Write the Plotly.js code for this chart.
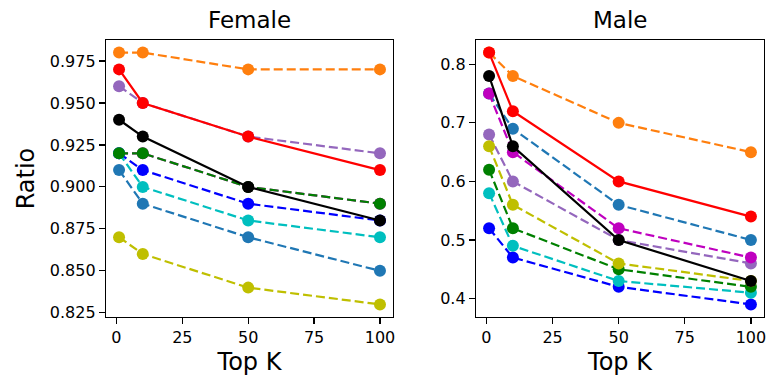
<!DOCTYPE html>
<html>
<head>
<meta charset="utf-8">
<script src="https://cdn.plot.ly/plotly-3.0.1.min.js"></script>
<style>html,body{margin:0;padding:0;background:#fff}#chart{width:767px;height:379px}</style>
</head>
<body>
<div id="chart"></div>
<script>
// Top K values (x axis)
const topK = [1, 10, 50, 100];

// Series names (draw order, bottom to top) and colours
const seriesNames = ["orange", "purple", "steelblue", "magenta", "blue", "cyan", "green", "olive", "red", "black"];
const seriesColors = ["#ff7f0e", "#9467bd", "#1f77b4", "#bf00bf", "#0000ff", "#00bfbf", "#008000", "#bfbf00", "#ff0000", "#000000"];
const seriesDash = ["dash", "dash", "dash", "dash", "dash", "dash", "dash", "dash", "solid", "solid"];

// Female ratios
const femaleOrange    = [0.98, 0.98, 0.97, 0.97];
const femalePurple    = [0.96, 0.95, 0.93, 0.92];
const femaleSteelblue = [0.91, 0.89, 0.87, 0.85];
const femaleMagenta   = [0.92, 0.92, 0.90, 0.89];
const femaleBlue      = [0.92, 0.91, 0.89, 0.88];
const femaleCyan      = [0.92, 0.90, 0.88, 0.87];
const femaleGreen     = [0.92, 0.92, 0.90, 0.89];
const femaleOlive     = [0.87, 0.86, 0.84, 0.83];
const femaleRed       = [0.97, 0.95, 0.93, 0.91];
const femaleBlack     = [0.94, 0.93, 0.90, 0.88];

// Male ratios
const maleOrange    = [0.82, 0.78, 0.70, 0.65];
const malePurple    = [0.68, 0.60, 0.50, 0.46];
const maleSteelblue = [0.75, 0.69, 0.56, 0.50];
const maleMagenta   = [0.75, 0.65, 0.52, 0.47];
const maleBlue      = [0.52, 0.47, 0.42, 0.39];
const maleCyan      = [0.58, 0.49, 0.43, 0.41];
const maleGreen     = [0.62, 0.52, 0.45, 0.42];
const maleOlive     = [0.66, 0.56, 0.46, 0.43];
const maleRed       = [0.82, 0.72, 0.60, 0.54];
const maleBlack     = [0.78, 0.66, 0.50, 0.43];

// Tick labels
const xTicks = [0, 25, 50, 75, 100];
const femaleYTicks = [0.825, 0.850, 0.875, 0.900, 0.925, 0.950, 0.975];
const maleYTicks = [0.4, 0.5, 0.6, 0.7, 0.8];

const femaleSeries = [femaleOrange, femalePurple, femaleSteelblue, femaleMagenta, femaleBlue, femaleCyan, femaleGreen, femaleOlive, femaleRed, femaleBlack];
const maleSeries = [maleOrange, malePurple, maleSteelblue, maleMagenta, maleBlue, maleCyan, maleGreen, maleOlive, maleRed, maleBlack];

function mk(ys, i, xa, ya) {
  return {
    x: topK, y: ys, xaxis: xa, yaxis: ya, type: "scatter", mode: "lines+markers",
    name: seriesNames[i], showlegend: false,
    line: {color: seriesColors[i], width: 2.2, dash: seriesDash[i] === "dash" ? "9px,4px" : "solid"},
    marker: {color: seriesColors[i], size: 12, line: {width: 0}}
  };
}
const traces = [];
femaleSeries.forEach((s, i) => traces.push(mk(s, i, "x", "y")));
maleSeries.forEach((s, i) => traces.push(mk(s, i, "x2", "y2")));

const font = {family: "DejaVu Sans", color: "#000"};
const axBase = {
  showline: true, mirror: true, linecolor: "#000", linewidth: 1.2,
  ticks: "outside", ticklen: 6, tickwidth: 1.2, tickcolor: "#000",
  showgrid: false, zeroline: false, fixedrange: true,
  tickfont: {family: "DejaVu Sans", size: 16, color: "#000"}
};
const xRange = [-3.95, 104.95];

const layout = {
  width: 767, height: 379,
  margin: {l: 106, r: 3, t: 40, b: 62},
  paper_bgcolor: "#fff", plot_bgcolor: "#fff",
  font: font,
  xaxis: Object.assign({}, axBase, {domain: [0, 0.4362], range: xRange, tickvals: xTicks, anchor: "y",
    title: {text: "Top K", font: {family: "DejaVu Sans", size: 24, color: "#000"}, standoff: 6}}),
  yaxis: Object.assign({}, axBase, {domain: [0, 1], range: [0.8225, 0.9875], tickvals: femaleYTicks, tickformat: ".3f", anchor: "x",
    title: {text: "Ratio", font: {family: "DejaVu Sans", size: 24, color: "#000"}, standoff: 8}}),
  xaxis2: Object.assign({}, axBase, {domain: [0.5623, 1], range: xRange, tickvals: xTicks, anchor: "y2",
    title: {text: "Top K", font: {family: "DejaVu Sans", size: 24, color: "#000"}, standoff: 6}}),
  yaxis2: Object.assign({}, axBase, {domain: [0, 1], range: [0.3685, 0.8415], tickvals: maleYTicks, tickformat: ".1f", anchor: "x2"}),
  annotations: [
    {text: "Female", xref: "paper", yref: "paper", x: 0.2181, y: 1.072, xanchor: "center", yanchor: "middle", showarrow: false,
     font: {family: "DejaVu Sans", size: 23, color: "#000"}},
    {text: "Male", xref: "paper", yref: "paper", x: 0.7811, y: 1.072, xanchor: "center", yanchor: "middle", showarrow: false,
     font: {family: "DejaVu Sans", size: 23, color: "#000"}}
  ]
};

Plotly.newPlot("chart", traces, layout, {staticPlot: true, displayModeBar: false});
</script>
</body>
</html>
